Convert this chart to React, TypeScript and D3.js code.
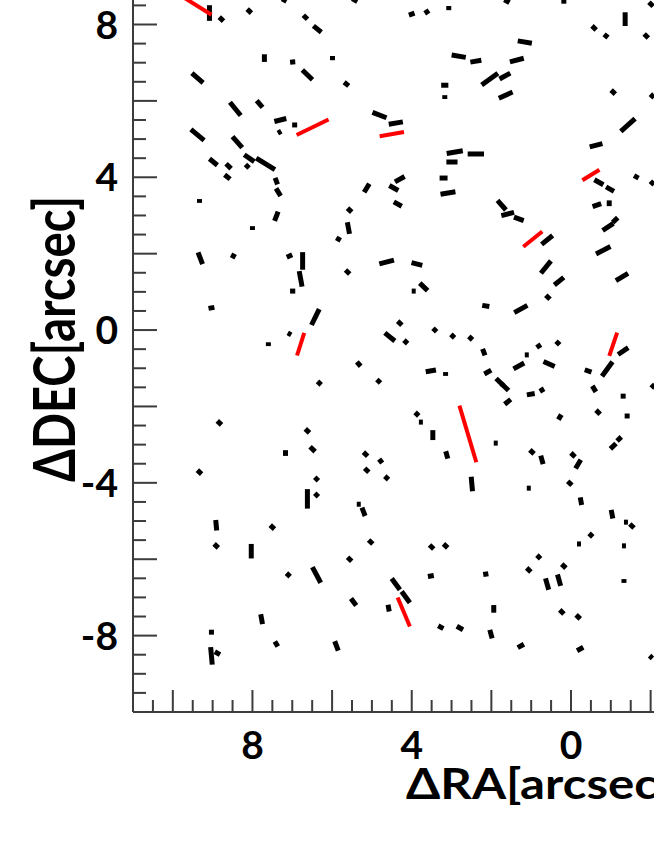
import React from "react";
import * as d3 from "d3";

// Black polarization vectors: center (ΔRA, ΔDEC) in arcsec, length (arcsec), position angle (deg E of N)
const blackRA = [9.08,8.78,8.08,7.20,6.67,6.37,5.43,4.00,3.62,3.07,1.61,0.18,-2.01,-1.36,-0.58,-0.88,-1.89,7.70,6.99,6.62,9.38,5.99,5.64,2.82,2.39,1.16,1.36,2.04,1.66,1.64,3.17,3.17,-1.06,-2.04,8.43,7.82,7.30,6.94,7.32,9.38,8.38,4.81,4.40,2.92,2.39,2.99,-1.43,-0.63,8.98,8.08,7.67,8.60,8.13,8.63,7.40,7.35,9.33,7.40,8.00,3.20,3.09,4.30,4.45,4.35,5.13,5.56,5.59,5.84,-0.70,-1.64,-2.04,-0.98,-0.65,-0.96,-0.93,-1.11,1.74,1.59,1.31,0.60,9.31,8.48,7.07,6.74,6.79,6.99,9.03,4.63,3.87,5.61,3.70,3.95,6.42,4.30,-0.81,0.63,0.30,-1.28,0.58,1.26,2.14,4.55,4.15,3.42,2.97,2.52,2.19,1.11,0.81,0.33,-1.31,7.60,7.07,5.33,3.52,3.15,2.09,1.79,1.66,1.31,0.55,-0.43,-0.91,-0.58,-1.31,-2.06,6.32,4.83,1.01,0.73,1.59,0.28,-0.68,-1.41,3.87,3.77,3.47,8.83,6.62,6.49,7.17,9.33,3.12,5.16,4.78,5.13,1.89,0.98,0.73,-0.05,-0.18,-1.06,-1.21,6.39,4.63,2.49,0.03,6.62,6.39,8.91,7.50,8.91,8.03,-0.25,1.06,5.33,5.21,-1.03,-1.38,-1.53,-0.50,-0.20,-1.33,5.03,3.50,3.15,5.56,0.81,7.10,6.39,7.77,7.40,9.03,9.03,8.88,4.40,4.15,5.46,4.58,3.52,2.14,1.06,0.18,0.60,0.30,1.94,3.27,2.79,2.01,1.26,0.23,-0.18,-0.23,-1.33,-2.01,5.89];
const blackDEC = [8.30,8.14,8.35,8.64,8.19,7.88,8.64,8.27,8.33,8.43,8.61,8.61,8.53,8.14,7.91,7.70,7.70,7.12,7.02,6.68,6.60,7.12,6.44,7.17,7.04,7.54,7.07,6.57,6.65,6.15,6.41,6.10,6.23,6.13,5.79,5.92,5.50,5.37,5.18,5.11,4.92,5.63,5.42,4.66,4.61,4.40,5.37,4.84,4.40,4.50,4.35,4.29,4.29,4.01,3.90,3.61,3.38,2.98,2.67,3.98,3.59,3.95,3.72,3.30,3.72,3.14,2.67,2.38,3.87,4.01,3.85,3.69,3.27,3.32,2.70,2.88,3.27,3.04,2.91,2.36,1.88,1.94,1.94,1.81,1.34,1.02,0.58,1.78,1.73,1.52,1.13,1.02,0.34,0.18,2.09,1.65,1.28,1.39,0.86,0.55,0.63,-0.18,-0.31,0.00,-0.16,-0.21,-0.58,-0.65,-0.42,-0.34,-0.55,-0.37,-0.10,-0.89,-1.07,-1.15,-1.10,-1.36,-1.49,-0.94,-0.89,-1.07,-1.02,-1.54,-1.73,-1.47,-1.39,-1.34,-1.68,-1.57,-1.88,-2.28,-2.15,-2.25,-2.20,-2.41,-2.75,-2.43,-2.64,-3.12,-3.22,-3.72,-3.27,-3.25,-3.43,-3.67,-2.96,-3.19,-3.40,-3.27,-3.51,-3.04,-2.85,-3.90,-3.87,-4.03,-4.01,-4.42,-4.32,-5.11,-5.16,-5.65,-5.79,-4.48,-4.14,-4.56,-4.76,-4.82,-5.03,-5.13,-5.37,-5.60,-5.65,-5.55,-5.68,-5.65,-6.00,-5.94,-6.41,-6.41,-7.57,-8.22,-7.91,-8.53,-8.46,-6.65,-6.99,-7.12,-7.28,-6.44,-6.39,-6.28,-6.18,-6.65,-6.55,-7.30,-7.78,-7.80,-7.96,-8.27,-7.38,-7.51,-8.35,-6.57,-8.56,-8.27];
const blackP = [0.41,0.15,0.15,0.13,0.15,0.26,0.15,0.15,0.13,0.11,0.15,0.13,0.15,0.36,0.15,0.13,0.15,0.20,0.13,0.36,0.38,0.11,0.15,0.36,0.28,0.36,0.36,0.51,0.31,0.38,0.18,0.10,0.15,0.13,0.44,0.23,0.31,0.13,0.10,0.44,0.38,0.38,0.36,0.41,0.41,0.28,0.49,0.33,0.26,0.31,0.56,0.18,0.13,0.18,0.18,0.23,0.10,0.26,0.10,0.20,0.38,0.28,0.26,0.23,0.26,0.15,0.31,0.13,0.26,0.13,0.13,0.23,0.23,0.15,0.33,0.18,0.33,0.33,0.26,0.36,0.33,0.13,0.15,0.46,0.41,0.13,0.15,0.38,0.28,0.15,0.28,0.10,0.46,0.15,0.41,0.41,0.31,0.36,0.15,0.38,0.18,0.33,0.13,0.13,0.13,0.13,0.18,0.10,0.13,0.13,0.31,0.10,0.10,0.15,0.26,0.10,0.20,0.26,0.26,0.31,0.31,0.18,0.46,0.18,0.13,0.13,0.13,0.13,0.20,0.13,0.20,0.15,0.15,0.13,0.13,0.10,0.26,0.15,0.15,0.18,0.15,0.15,0.20,0.15,0.13,0.15,0.10,0.15,0.23,0.15,0.26,0.20,0.15,0.13,0.13,0.38,0.15,0.51,0.13,0.28,0.15,0.15,0.38,0.20,0.10,0.10,0.23,0.23,0.10,0.15,0.13,0.10,0.10,0.15,0.15,0.15,0.15,0.13,0.13,0.46,0.26,0.15,0.13,0.46,0.15,0.36,0.36,0.23,0.18,0.15,0.13,0.15,0.15,0.31,0.31,0.20,0.15,0.18,0.23,0.18,0.15,0.15,0.18,0.10,0.10,0.26];
const blackPA = [0,45,45,60,45,50,60,110,125,0,60,0,45,0,45,50,45,0,95,45,48,0,50,80,100,80,105,127,120,115,90,0,45,45,38,40,105,0,120,49,40,68,100,100,90,90,133,105,50,55,57,45,45,50,20,30,0,160,0,90,100,120,60,60,150,45,10,60,60,60,45,60,110,0,125,135,40,105,70,130,20,60,115,0,10,90,100,105,75,45,45,90,155,45,118,142,130,122,45,120,80,50,45,45,45,45,20,90,125,45,125,0,60,40,100,0,120,45,45,120,65,70,145,30,0,45,45,45,100,30,130,150,45,0,45,90,0,45,45,45,0,45,15,45,130,45,90,45,15,45,150,135,135,45,45,5,45,0,45,5,45,45,0,10,90,90,20,10,90,45,45,90,90,45,45,45,45,45,45,27,10,30,0,5,60,35,35,35,10,100,100,45,45,15,15,0,60,60,15,120,45,45,120,0,45,20];

// Red (highlighted) vectors
const redRA = [9.36, 6.49, 4.50, -0.50, 0.96, 6.79, 2.59, -1.06, 4.20];
const redDEC = [8.47, 5.31, 5.13, 4.06, 2.38, -0.37, -2.72, -0.37, -7.38];
const redP = [0.79, 0.90, 0.62, 0.51, 0.62, 0.62, 1.54, 0.64, 0.82];
const redPA = [57, 117, 100, 123, 130, 163, 16, 162, 22];

const xLabels = [8, 4, 0];
const yLabels = [8, 4, 0, -4, -8];

const W = 654;
const H = 846;
const FONT = "Lato, 'Open Sans', sans-serif";
const AXIS = "#3c3c3c";

function seg(x: d3.ScaleLinear<number, number>, y: d3.ScaleLinear<number, number>, ra: number, dec: number, p: number, pa: number) {
  const t = (pa * Math.PI) / 180;
  const dr = (p / 2) * Math.sin(t);
  const dd = (p / 2) * Math.cos(t);
  return { x1: x(ra + dr), y1: y(dec + dd), x2: x(ra - dr), y2: y(dec - dd) };
}

export default function App() {
  const x = d3.scaleLinear().domain([11, 0]).range([133, 571]);
  const y = d3.scaleLinear().domain([-10, 8]).range([712, 24.5]);

  const xTicks = d3.range(1, 30).map((i) => 11 - 0.5 * i);
  const yTicks = d3.range(1, 40).map((i) => -10 + 0.5 * i);
  const isMajor = (v: number) => Math.abs(v % 2) < 1e-9;

  return (
    <svg width={W} height={H} style={{ position: "absolute", left: 0, top: 0, background: "#fff" }}>
      <rect x={0} y={0} width={W} height={H} fill="#fff" />
      <g stroke="#000" strokeWidth={5} strokeLinecap="butt">
        {blackRA.map((ra, i) => {
          const s = seg(x, y, ra, blackDEC[i], blackP[i], blackPA[i]);
          return <line key={i} {...s} />;
        })}
      </g>
      <g stroke="#ff0000" strokeWidth={4} strokeLinecap="butt">
        {redRA.map((ra, i) => {
          const s = seg(x, y, ra, redDEC[i], redP[i], redPA[i]);
          return <line key={i} {...s} />;
        })}
      </g>
      <g stroke={AXIS} strokeWidth={2}>
        <line x1={x(11)} x2={x(-3)} y1={y(-10)} y2={y(-10)} />
        <line x1={x(11)} x2={x(11)} y1={y(-10)} y2={y(9.5)} />
        {xTicks.map((v) => (
          <line key={"xt" + v} x1={x(v)} x2={x(v)} y1={y(-10)} y2={y(-10) - (isMajor(v) ? 22 : 12)} />
        ))}
        {yTicks.map((v) => (
          <line key={"yt" + v} x1={x(11)} x2={x(11) + (isMajor(v) ? 24 : 13)} y1={y(v)} y2={y(v)} />
        ))}
      </g>
      <g fontFamily={FONT} fontWeight="bold" fontSize={39} fill="#000">
        {xLabels.map((v) => (
          <text key={"xl" + v} x={x(v)} y={759} textAnchor="middle">
            {String(v)}
          </text>
        ))}
        {yLabels.map((v) => (
          <text key={"yl" + v} x={118} y={y(v)} dy="0.36em" textAnchor="end">
            {String(v)}
          </text>
        ))}
      </g>
      <text
        x={406}
        y={799}
        fontFamily={FONT}
        fontWeight="bold"
        fontSize={42}
        textLength={266}
        lengthAdjust="spacingAndGlyphs"
        fill="#000"
      >
        ΔRA[arcsec]
      </text>
      <text
        transform="translate(75,482) rotate(-90)"
        fontFamily={FONT}
        fontWeight="bold"
        fontSize={57}
        textLength={286}
        lengthAdjust="spacingAndGlyphs"
        fill="#000"
      >
        ΔDEC[arcsec]
      </text>
    </svg>
  );
}
